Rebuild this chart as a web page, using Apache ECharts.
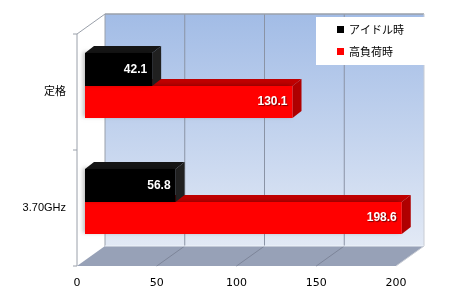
<!DOCTYPE html>
<html><head><meta charset="utf-8">
<script src="https://cdn.jsdelivr.net/npm/echarts@6/dist/echarts.min.js"></script>
<style>html,body{margin:0;padding:0;background:#fff}#c{width:450px;height:300px}</style>
</head><body><div id="c"></div>
<script>
const categories = ['定格', '3.70GHz'];
const seriesNames = ['アイドル時', '高負荷時'];
const idleValues = [42.1, 56.8];
const loadValues = [130.1, 198.6];
const xTicks = [0, 50, 100, 150, 200];

const DX = 28, DY = -20;       // depth of the chart box
const BDX = 9, BDY = -7;       // depth of bars
const BOFF = 8;                // bar front face offset

function wallRender(params, api) {
  const cs = params.coordSys;
  const x0 = cs.x, y0 = cs.y, w = cs.width, h = cs.height;
  const ch = [];
  ch.push({type:'rect', shape:{x:x0+DX, y:y0+DY, width:w, height:h},
    style:{fill:new echarts.graphic.LinearGradient(0,0,0,1,[{offset:0,color:'#a2bce6'},{offset:1,color:'#e2e9f5'}]), stroke:null}});
  ch.push({type:'polygon', shape:{points:[[x0,y0],[x0+DX,y0+DY],[x0+DX,y0+h+DY],[x0,y0+h]]},
    style:{fill:'#ffffff', stroke:null}});
  ch.push({type:'polygon', shape:{points:[[x0,y0+h],[x0+w,y0+h],[x0+w+DX,y0+h+DY],[x0+DX,y0+h+DY]]},
    style:{fill:'#97a1b7', stroke:null}});
  xTicks.forEach(function(t){
    const fx = api.coord([t, 0])[0];
    if (t > 0 && t < 200) {
      ch.push({type:'line', shape:{x1:fx+DX, y1:y0+DY, x2:fx+DX, y2:y0+h+DY}, style:{stroke:'#8a93a5', lineWidth:1}});
      ch.push({type:'line', shape:{x1:fx, y1:y0+h, x2:fx+DX, y2:y0+h+DY}, style:{stroke:'#7d8599', lineWidth:1}});
    }
  });
  ch.push({type:'line', shape:{x1:x0+DX, y1:y0+DY, x2:x0+w+DX, y2:y0+DY}, style:{stroke:'#9aa0aa', lineWidth:1.5}});
  ch.push({type:'line', shape:{x1:x0+DX, y1:y0+DY, x2:x0+DX, y2:y0+h+DY}, style:{stroke:'#9aa0aa', lineWidth:1}});
  ch.push({type:'line', shape:{x1:x0+w+DX, y1:y0+DY, x2:x0+w+DX, y2:y0+h+DY}, style:{stroke:'#c8ccd4', lineWidth:1}});
  ch.push({type:'line', shape:{x1:x0, y1:y0, x2:x0+DX, y2:y0+DY}, style:{stroke:'#9aa0aa', lineWidth:1}});
  ch.push({type:'line', shape:{x1:x0+DX, y1:y0+h+DY, x2:x0+w+DX, y2:y0+h+DY}, style:{stroke:'#eef2f8', lineWidth:1}});
  ch.push({type:'line', shape:{x1:x0+w, y1:y0+h, x2:x0+w+DX, y2:y0+h+DY}, style:{stroke:'#c8ccd4', lineWidth:1}});
  ch.push({type:'line', shape:{x1:x0, y1:y0, x2:x0, y2:y0+h}, style:{stroke:'#9aa0aa', lineWidth:1}});
  [y0, y0+h/2, y0+h].forEach(function(ty){
    ch.push({type:'line', shape:{x1:x0-4, y1:ty, x2:x0, y2:ty}, style:{stroke:'#9aa0aa', lineWidth:1}});
  });
  return {type:'group', children:ch};
}

function makeBarRender(which, front, top, side) {
  return function(params, api) {
    const v = api.value(0), c = api.value(1);
    const p0 = api.coord([0, c]);
    const p1 = api.coord([v, c]);
    const band = api.size([0, 1])[1];
    const yc = p0[1];
    let yt, yb;
    if (which === 0) { yt = yc - 0.336*band; yb = yc - 0.052*band; }
    else { yt = yc - 0.052*band; yb = yc + 0.224*band; }
    const xa = p0[0] + BOFF, xb = p1[0] + BOFF;
    return {type:'group', children:[
      {type:'polygon', shape:{points:[[xa,yt],[xa+BDX,yt+BDY],[xb+BDX,yt+BDY],[xb,yt]]}, style:{fill:top}},
      {type:'polygon', shape:{points:[[xb,yt],[xb+BDX,yt+BDY],[xb+BDX,yb+BDY],[xb,yb]]}, style:{fill:side}},
      {type:'rect', shape:{x:xa, y:yt, width:xb-xa, height:yb-yt}, style:{fill:front, shadowBlur:4, shadowColor:'rgba(0,0,0,0.25)', shadowOffsetX:-2, shadowOffsetY:-1}},
      {type:'text', x:xb-5, y:(yt+yb)/2, style:{text:v.toFixed(1), fill:'#ffffff', font:'bold 12px "Liberation Sans", Arial, sans-serif', align:'right', verticalAlign:'middle', textShadowColor:'rgba(0,0,0,0.5)', textShadowBlur:1, textShadowOffsetX:1, textShadowOffsetY:1}}
    ]};
  };
}

const chart = echarts.init(document.getElementById('c'), null, {renderer:'canvas'});
chart.setOption({
  animation:false,
  backgroundColor:'#ffffff',
  grid:{left:77, top:34, width:319, height:232},
  xAxis:{type:'value', min:0, max:200, interval:50,
    axisLine:{show:false}, axisTick:{show:false}, splitLine:{show:false},
    axisLabel:{color:'#000', fontSize:11, fontFamily:'"DejaVu Sans", sans-serif', margin:12}},
  yAxis:{type:'category', data:categories, inverse:true,
    axisLine:{show:false}, axisTick:{show:false}, splitLine:{show:false},
    axisLabel:{color:'#000', fontSize:11, fontFamily:'"Liberation Sans","Noto Sans CJK JP", sans-serif', margin:11, padding:[3,0,0,0]}},
  legend:{data:seriesNames, orient:'vertical', left:316, top:17, padding:[7,25,8,21],
    backgroundColor:'#ffffff', itemWidth:7, itemHeight:7, itemGap:11, icon:'rect',
    textStyle:{color:'#000', fontSize:11, fontFamily:'"Noto Sans CJK JP", sans-serif'}},
  series:[
    {type:'custom', name:'wall', renderItem:wallRender, data:[[0,0]], silent:true, z:1},
    {type:'custom', name:'高負荷時', itemStyle:{color:'#ff0000'}, z:2,
      renderItem:makeBarRender(1,'#ff0000','#c00000','#b00000'),
      data:loadValues.map(function(v,i){return [v,i];}), encode:{x:0,y:1}},
    {type:'custom', name:'アイドル時', itemStyle:{color:'#000000'}, z:3,
      renderItem:makeBarRender(0,'#000000','#151515','#202020'),
      data:idleValues.map(function(v,i){return [v,i];}), encode:{x:0,y:1}}
  ]
});
</script></body></html>
